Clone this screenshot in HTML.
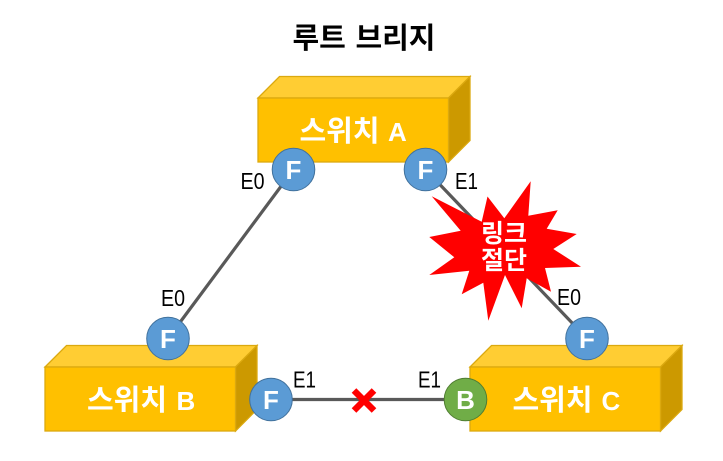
<!DOCTYPE html>
<html><head><meta charset="utf-8"><style>
html,body{margin:0;padding:0;background:#fff;width:723px;height:461px;overflow:hidden}
svg{display:block}
text{font-family:"Liberation Sans","Noto Sans CJK KR",sans-serif}
.k{font-family:"Noto Sans CJK KR","Liberation Sans",sans-serif;font-weight:700}
.e{font-size:23px;fill:#000}
.p{font-size:26px;font-weight:700;fill:#fff;text-anchor:middle;font-family:"Liberation Sans",sans-serif}
.s{font-size:29px;fill:#fff}
.l{font-size:26px;font-weight:700;fill:#fff;font-family:"Liberation Sans",sans-serif}
</style></head><body>
<svg width="723" height="461" viewBox="0 0 723 461" xmlns="http://www.w3.org/2000/svg">
<defs>
<g id="box">
<polygon points="0,21.5 21.5,0 212,0 190.5,21.5" fill="#ffcd33" stroke="#dba90f" stroke-width="1.3"/>
<polygon points="190.5,21.5 212,0 212,64 190.5,85.5" fill="#cc9900" stroke="#dba90f" stroke-width="1.3"/>
<rect x="0" y="21.5" width="190.5" height="64" fill="#ffc000" stroke="#dba90f" stroke-width="1.3"/>
</g>
</defs>
<use href="#box" x="258" y="76.5"/>
<use href="#box" x="45" y="345.5"/>
<use href="#box" x="470" y="345.5"/>
<g stroke="#595959" stroke-width="3.2" fill="none">
<line x1="293.5" y1="169.5" x2="168" y2="338.5"/>
<line x1="425.5" y1="169.5" x2="587" y2="338.5"/>
<line x1="271" y1="399.5" x2="465" y2="399.5"/>
</g>
<polygon fill="#ff0000" points="431.7,196.3 481.7,221.7 487.5,196.5 504.3,218.3 530.7,181.3 528.3,215.7 557.7,210.3 546.7,228.7 576.7,234 553.3,249 581,266.7 545,268 551,291.7 526.7,278.3 521.7,308.3 505,275 488.3,320.7 483.3,282.7 461.7,294.3 469.3,270.7 429.3,275 454.3,257.3 429.3,237 460.7,230.7"/>
<g stroke="#ff0000" stroke-width="6.5" fill="none">
<line x1="354" y1="390.5" x2="374" y2="410.5"/>
<line x1="374" y1="390.5" x2="354" y2="410.5"/>
</g>
<g stroke="#41719c" stroke-width="1" fill="#5b9bd5">
<circle cx="293.5" cy="169.5" r="21.3"/>
<circle cx="425.5" cy="169.5" r="21.3"/>
<circle cx="168" cy="338.5" r="21.3"/>
<circle cx="271" cy="399.5" r="21.3"/>
<circle cx="587" cy="338.5" r="21.3"/>
</g>
<circle cx="465.5" cy="399.5" r="21.3" fill="#70ad47" stroke="#507e32" stroke-width="1"/>
<text class="p" x="293.5" y="179">F</text>
<text class="p" x="425.5" y="179">F</text>
<text class="p" x="168" y="348">F</text>
<text class="p" x="271" y="409">F</text>
<text class="p" x="587" y="348">F</text>
<text class="p" x="465.5" y="409">B</text>
<text class="e" x="240.5" y="189" textLength="24" lengthAdjust="spacingAndGlyphs">E0</text>
<text class="e" x="455" y="189" textLength="23" lengthAdjust="spacingAndGlyphs">E1</text>
<text class="e" x="161" y="306" textLength="24" lengthAdjust="spacingAndGlyphs">E0</text>
<text class="e" x="557" y="305" textLength="24" lengthAdjust="spacingAndGlyphs">E0</text>
<text class="e" x="293" y="387.5" textLength="23" lengthAdjust="spacingAndGlyphs">E1</text>
<text class="e" x="418" y="387.5" textLength="23" lengthAdjust="spacingAndGlyphs">E1</text>
<text class="k" x="292.5" y="48" font-size="29" fill="#000" word-spacing="3">루트 브리지</text>
<text class="k s" x="299.5" y="141">스위치</text><text class="l" x="388" y="141">A</text>
<text class="k s" x="87" y="410">스위치</text><text class="l" x="176.5" y="410">B</text>
<text class="k s" x="512.5" y="410">스위치</text><text class="l" x="601.5" y="410">C</text>
<text class="k" x="481" y="242" font-size="25" fill="#fff">링크</text>
<text class="k" x="481" y="269" font-size="25" fill="#fff">절단</text>
</svg>
</body></html>
